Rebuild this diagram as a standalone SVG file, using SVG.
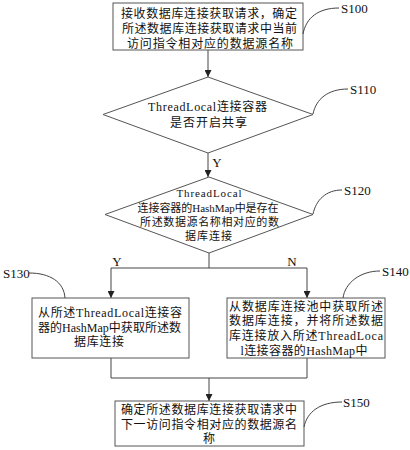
<svg xmlns="http://www.w3.org/2000/svg" width="410" height="450" viewBox="0 0 410 450">
<style>
.box{fill:#fff;stroke:#555;stroke-width:1}
.ln{fill:none;stroke:#444;stroke-width:1}
.cv{fill:none;stroke:#444;stroke-width:1}
.t{font-family:"Liberation Serif","Noto Sans CJK SC",serif;font-size:12px;fill:#111;text-anchor:middle}
.td{font-family:"Liberation Serif","Noto Sans CJK SC",serif;font-size:11px;fill:#111;text-anchor:middle}
.lb{font-family:"Liberation Serif",serif;font-size:13px;fill:#111}
</style>
<defs>
<marker id="ah" markerUnits="userSpaceOnUse" markerWidth="7" markerHeight="7" refX="7" refY="3.5" orient="auto">
<path d="M0,0 L7,3.5 L0,7 z" fill="#222"/>
</marker>
</defs>
<rect width="410" height="450" fill="#fff"/>
<g id="connectors">
<path class="ln" d="M208,50 V77" marker-end="url(#ah)"/>
<path class="ln" d="M208,153 V177" marker-end="url(#ah)"/>
<path class="ln" d="M209,253 V268 M111,268 H307"/>
<path class="ln" d="M111,268 V298" marker-end="url(#ah)"/>
<path class="ln" d="M307,268 V298" marker-end="url(#ah)"/>
<path class="ln" d="M111,358 V378 H307 V358"/>
<path class="ln" d="M209,378 V401" marker-end="url(#ah)"/>
<text class="lb" x="217" y="167" text-anchor="middle">Y</text>
<text class="lb" x="117" y="266" text-anchor="middle">Y</text>
<text class="lb" x="292" y="266" text-anchor="middle">N</text>
</g>
<g id="S100">
<rect class="box" x="113" y="3" width="190" height="47"/>
<text class="t" x="209" y="18" textLength="176" lengthAdjust="spacing">接收数据库连接获取请求，确定</text>
<text class="t" x="209.5" y="33" textLength="175" lengthAdjust="spacing">所述数据库连接获取请求中当前</text>
<text class="t" x="210" y="48" textLength="166" lengthAdjust="spacing">访问指令相对应的数据源名称</text>
<path class="cv" d="M303,34 C306,18 318,8 339,8"/>
<text class="lb" x="341" y="12.5">S100</text>
</g>
<g id="S110">
<polygon class="box" points="208,77 313,114.5 208,153 103,114.5"/>
<text class="t" x="207.5" y="110.5" textLength="119" lengthAdjust="spacing">ThreadLocal连接容器</text>
<text class="t" x="208.5" y="126.5" textLength="77" lengthAdjust="spacing">是否开启共享</text>
<path class="cv" d="M313,114 C316,99 328,89 348,89"/>
<text class="lb" x="350" y="93.5">S110</text>
</g>
<g id="S120">
<polygon class="box" points="209,177 313,214.5 209,253 105,214.5"/>
<text class="td" x="209" y="197" textLength="65" lengthAdjust="spacing">ThreadLocal</text>
<text class="td" x="208" y="211.5" textLength="141" lengthAdjust="spacing">连接容器的HashMap中是存在</text>
<text class="td" x="209.5" y="226" textLength="139" lengthAdjust="spacing">所述数据源名称相对应的数</text>
<text class="td" x="208.5" y="240" textLength="47" lengthAdjust="spacing">据库连接</text>
<path class="cv" d="M313,214 C316,200 326,190 342,190"/>
<text class="lb" x="344" y="194.5">S120</text>
</g>
<g id="S130">
<rect class="box" x="32" y="298" width="157" height="60"/>
<text class="t" x="110" y="316.5" textLength="144" lengthAdjust="spacing">从所述ThreadLocal连接容</text>
<text class="t" x="109.5" y="331.5" textLength="143" lengthAdjust="spacing">器的HashMap中获取所述数</text>
<text class="t" x="99" y="346" textLength="50" lengthAdjust="spacing">据库连接</text>
<path class="cv" d="M29,273 C50,273 64,282 65,298"/>
<text class="lb" x="3" y="277.5">S130</text>
</g>
<g id="S140">
<rect class="box" x="227" y="298" width="158" height="60"/>
<text class="t" x="306" y="310.5" textLength="154" lengthAdjust="spacing">从数据库连接池中获取所述</text>
<text class="t" x="306" y="325" textLength="154" lengthAdjust="spacing">数据库连接，并将所述数据</text>
<text class="t" x="306" y="339.5" textLength="154" lengthAdjust="spacing">库连接放入所述ThreadLoca</text>
<text class="t" x="304" y="354.5" textLength="127" lengthAdjust="spacing">l连接容器的HashMap中</text>
<path class="cv" d="M343,298 C345,283 360,271 380,271"/>
<text class="lb" x="382" y="275.5">S140</text>
</g>
<g id="S150">
<rect class="box" x="115" y="401" width="189" height="45"/>
<text class="t" x="209" y="413.5" textLength="176" lengthAdjust="spacing">确定所述数据库连接获取请求中</text>
<text class="t" x="209" y="428.5" textLength="176" lengthAdjust="spacing">下一访问指令相对应的数据源名</text>
<text class="t" x="209" y="442.5">称</text>
<path class="cv" d="M304,427 C307,412 320,402 342,402"/>
<text class="lb" x="343" y="406.5">S150</text>
</g>
</svg>
